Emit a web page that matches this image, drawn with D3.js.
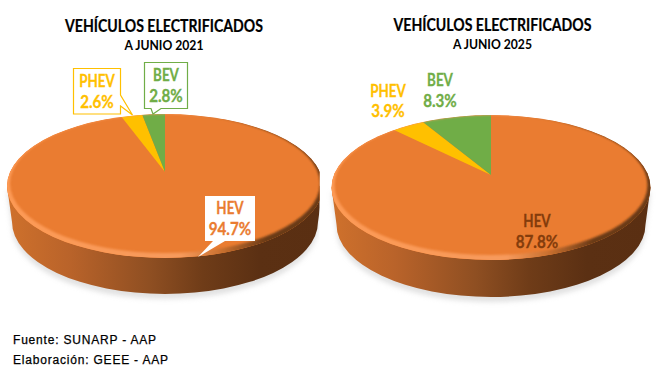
<!DOCTYPE html>
<html lang="es">
<head>
<meta charset="utf-8">
<title>Vehículos electrificados</title>
<script src="https://d3js.org/d3.v7.min.js"></script>
<style>
    html, body { margin: 0; padding: 0; background: #fff; }
    svg { display: block; }
    text { font-family: Lato, "Open Sans", sans-serif; font-weight: 700; text-anchor: middle; }
    .foot { font-family: "Liberation Sans", Arial, sans-serif; font-weight: 400; font-size: 12px; text-anchor: start; letter-spacing: 0.8px; fill: #000; stroke: #000; stroke-width: 0.25px; }
</style>
</head>
<body>
<svg id="chart" width="661" height="380"></svg>
<script>
// data
var categories = ["HEV", "PHEV", "BEV"];
var values2021 = [94.7, 2.6, 2.8];
var values2025 = [87.8, 3.9, 8.3];
var colors = ["#ea7c31", "#ffc000", "#70ad47"];
var titles = ["VEHÍCULOS ELECTRIFICADOS", "VEHÍCULOS ELECTRIFICADOS"];
var subtitles = ["A JUNIO 2021", "A JUNIO 2025"];
var footer = ["Fuente: SUNARP - AAP", "Elaboración: GEEE - AAP"];

var svg = d3.select("#chart");
var defs = svg.append("defs");

var soft = defs.append("filter").attr("id", "soft").attr("x", "-10%").attr("y", "-10%").attr("width", "120%").attr("height", "120%");
soft.append("feGaussianBlur").attr("stdDeviation", 1.2);
var shadowBlur = defs.append("filter").attr("id", "shadowBlur").attr("x", "-10%").attr("y", "-10%").attr("width", "120%").attr("height", "120%");
shadowBlur.append("feGaussianBlur").attr("stdDeviation", 2.5);

function makeGradient(id, x0, x1, stops) {
    var g = defs.append("linearGradient").attr("id", id)
        .attr("gradientUnits", "userSpaceOnUse")
        .attr("x1", x0).attr("x2", x1).attr("y1", 0).attr("y2", 0);
    stops.forEach(function (s) {
        g.append("stop").attr("offset", s[0]).attr("stop-color", s[1]);
    });
}

// the installed fonts run wider than the original one, so squeeze the text a bit
function condense(sel, ratio) {
    var w = sel.node().getComputedTextLength();
    sel.attr("textLength", w * ratio).attr("lengthAdjust", "spacingAndGlyphs");
}

// cx, rx, top/bottom of the top face, y of the pie centre as seen in perspective
function drawPie(id, values, o) {
    var g = svg.append("g");
    var cy = (o.top + o.bottom) / 2;
    var ry = (o.bottom - o.top) / 2;

    // circle -> tilted plane: keeps the apex off the ellipse centre like the 3D original
    var c = (2 * o.apex - o.top - o.bottom) / (o.bottom - o.top);
    var a = o.bottom * (1 + c) - o.apex;
    var d = o.rx * Math.sqrt(1 - c * c);
    function project(t) {
        var u = Math.sin(t), v = -Math.cos(t), w = 1 + c * v;
        return [o.cx + d * u / w, (a * v + o.apex) / w];
    }

    makeGradient("side" + id, o.cx - o.rx, o.cx + o.rx, [
        [0, "#cf712c"], [0.2, "#b9632a"], [0.45, "#8f4f22"], [0.62, "#6f3c18"], [0.8, "#5b3013"], [1, "#5a2f12"]
    ]);
    makeGradient("rim" + id, o.cx - o.rx, o.cx + o.rx, [
        [0, "#fd9a55"], [0.55, "#f79a5c"], [0.68, "#c9702f"], [0.82, "#6b3a16"], [1, "#6b3a16"]
    ]);

    defs.append("clipPath").attr("id", "face" + id).append("ellipse")
        .attr("cx", o.cx).attr("cy", cy).attr("rx", o.rx).attr("ry", ry);
    defs.append("clipPath").attr("id", "area" + id).append("rect")
        .attr("x", o.cx - o.rx - 10).attr("y", 0).attr("width", o.clipR - o.cx + o.rx + 10).attr("height", 380);

    var plot = g.append("g").attr("clip-path", "url(#area" + id + ")");

    // body of the disc
    var bodyRx = o.rx - o.narrow;
    var bodyCy = cy + o.depth;
    var bodyPath = "M" + (o.cx - o.rx) + "," + cy +
        "L" + (o.cx - bodyRx) + "," + bodyCy +
        "A" + bodyRx + "," + ry + " 0 0 0 " + (o.cx + bodyRx) + "," + bodyCy +
        "L" + (o.cx + o.rx) + "," + cy + "Z";

    plot.append("path").attr("d", bodyPath)
        .attr("transform", "translate(0,5)")
        .attr("fill", "#c4c4c4").attr("opacity", 0.5).attr("filter", "url(#shadowBlur)");
    plot.append("path").attr("d", bodyPath).attr("fill", "url(#side" + id + ")");

    // slices
    var pie = d3.pie().sort(null);
    var arcs = pie(values);
    var line = d3.line();
    var face = plot.append("g").attr("clip-path", "url(#face" + id + ")");
    face.append("ellipse").attr("cx", o.cx).attr("cy", cy).attr("rx", o.rx).attr("ry", ry).attr("fill", colors[0]);
    arcs.forEach(function (s, i) {
        var n = Math.ceil((s.endAngle - s.startAngle) / 0.02);
        var pts = [[o.cx, o.apex]];
        d3.range(n + 1).forEach(function (k) {
            pts.push(project(s.startAngle + (s.endAngle - s.startAngle) * k / n));
        });
        face.append("path").attr("d", line(pts) + "Z").attr("fill", colors[i]);
    });

    // bevel along the lower edge of the top face
    var outer = "M" + (o.cx - o.rx - 3) + "," + cy + "A" + (o.rx + 3) + "," + (ry + 3) + " 0 1 0 " + (o.cx + o.rx + 3) + "," + cy +
        "A" + (o.rx + 3) + "," + (ry + 3) + " 0 1 0 " + (o.cx - o.rx - 3) + "," + cy + "Z";
    var irx = o.rx - 3, iry = ry - 2.5, icy = cy - 2.5;
    var inner = "M" + (o.cx - irx) + "," + icy + "A" + irx + "," + iry + " 0 1 0 " + (o.cx + irx) + "," + icy +
        "A" + irx + "," + iry + " 0 1 0 " + (o.cx - irx) + "," + icy + "Z";
    face.append("path").attr("d", outer + inner).attr("fill-rule", "evenodd")
        .attr("fill", "url(#rim" + id + ")").attr("filter", "url(#soft)");
}

function label(x, y, gap, name, pct, color) {
    var a = svg.append("text").attr("x", x).attr("y", y).attr("font-size", 16.5).attr("fill", color).attr("stroke", color).attr("stroke-width", 0.3).text(name);
    var b = svg.append("text").attr("x", x).attr("y", y + gap).attr("font-size", 16.5).attr("fill", color).attr("stroke", color).attr("stroke-width", 0.3).text(pct);
    condense(a, 0.81);
    condense(b, 0.92);
}

function callout(pts, fill, stroke) {
    svg.append("path").attr("d", d3.line()(pts) + "Z")
        .attr("fill", fill).attr("stroke", stroke).attr("stroke-width", stroke == "none" ? 0 : 1.2);
}

drawPie("a", values2021, { cx: 165, rx: 158, top: 114, bottom: 258, apex: 172, depth: 36, narrow: 5, clipR: 319.5 });
drawPie("b", values2025, { cx: 491, rx: 159.5, top: 115, bottom: 260, apex: 175, depth: 37, narrow: 5, clipR: 661 });

// titles
[[164, 32, 18], [492.5, 31, 17.5]].forEach(function (p, i) {
    var t = svg.append("text").attr("x", p[0]).attr("y", p[1]).attr("font-size", 16.5).attr("fill", "#000").attr("stroke", "#000").attr("stroke-width", 0.2).text(titles[i]);
    var s = svg.append("text").attr("x", p[0]).attr("y", p[1] + p[2]).attr("font-size", 12.5).attr("fill", "#000").text(subtitles[i]);
    t.attr("textLength", 198).attr("lengthAdjust", "spacingAndGlyphs");
    s.attr("textLength", 79).attr("lengthAdjust", "spacingAndGlyphs");
});

// callouts of the 2021 pie
callout([[205, 196], [255, 196], [255, 241], [225, 241], [198, 257], [213, 241], [205, 241]], "#fff", "none");
callout([[73.5, 68.5], [120.5, 68.5], [120.5, 95], [132.5, 115], [120.5, 106], [120.5, 114], [73.5, 114]], "#fff", colors[1]);
callout([[144.5, 62.5], [187.5, 62.5], [187.5, 108.5], [161, 108.5], [153, 114], [151, 108.5], [144.5, 108.5]], "#fff", colors[2]);

function pct(v) { return v.toFixed(1) + "%"; }
label(230, 214, 21, categories[0], pct(values2021[0]), colors[0]);
label(97, 87, 21, categories[1], pct(values2021[1]), colors[1]);
label(166, 81, 21, categories[2], pct(values2021[2]), colors[2]);

label(537, 227, 21, categories[0], pct(values2025[0]), "#843c0c");
label(388, 97, 20, categories[1], pct(values2025[1]), colors[1]);
label(440, 86, 21, categories[2], pct(values2025[2]), colors[2]);

footer.forEach(function (t, i) {
    svg.append("text").attr("class", "foot").attr("x", 13).attr("y", 344 + i * 20).text(t);
});
</script>
</body>
</html>
